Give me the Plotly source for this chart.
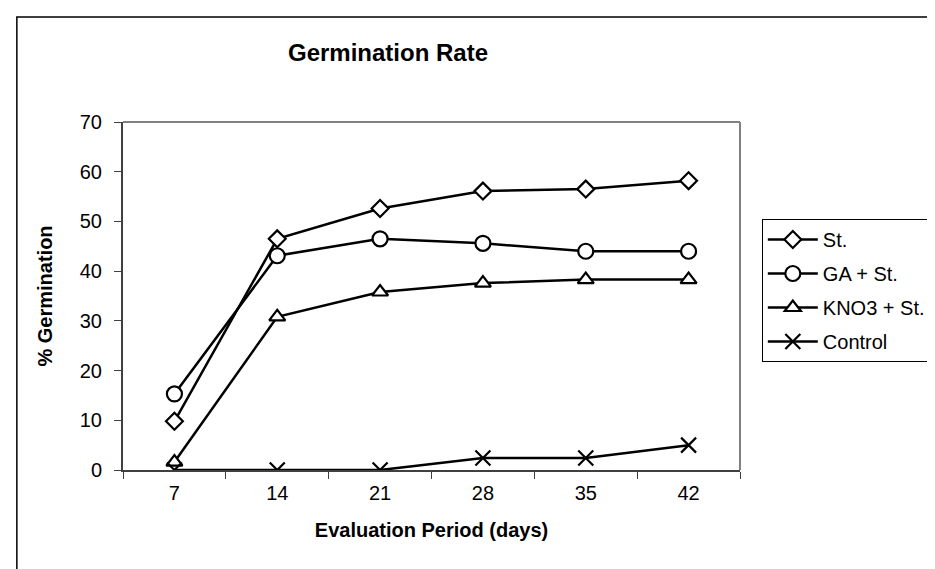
import plotly.graph_objects as go

days = ["7", "14", "21", "28", "35", "42"]
st = [9.8, 46.5, 52.6, 56.1, 56.5, 58.2]
ga_st = [15.3, 43.1, 46.5, 45.6, 44.0, 44.0]
kno3_st = [1.6, 30.8, 35.8, 37.6, 38.3, 38.3]
control = [0, 0, 0, 2.4, 2.4, 5.0]

series = [
    ("St.", st, "diamond", 13),
    ("GA + St.", ga_st, "circle", 15),
    ("KNO3 + St.", kno3_st, "triangle-up", 14),
    ("Control", control, "x-thin", 15),
]

fig = go.Figure()
for name, vals, sym, size in series:
    fig.add_trace(go.Scatter(
        x=days, y=vals, name=name, mode="lines+markers", legendgroup=name,
        line=dict(color="black", width=2.5),
        marker=dict(symbol=sym, size=size, color="white",
                    line=dict(color="black", width=2.2)),
    ))

W, H = 935, 569
L, R, T, B = 115, 198, 114, 107
pw, ph = W - L - R, H - T - B

def px2paper(xp, yp):
    return (xp - L) / pw, (H - B - yp) / ph

x0, y0 = px2paper(8, 9)
x1, y1 = px2paper(1000, 650)

fig.update_layout(
    width=W, height=H,
    margin=dict(l=L, r=R, t=T, b=B),
    paper_bgcolor="white", plot_bgcolor="white",
    font=dict(family="Liberation Sans, Arial, sans-serif", size=20, color="black"),
    title=dict(text="<b>Germination Rate</b>", x=380 / W, xanchor="center",
               y=1 - 45 / H, yanchor="middle", font=dict(size=24)),
    showlegend=True,
    legend=dict(x=px2paper(759, 0)[0], xanchor="left",
                y=px2paper(0, 211)[1], yanchor="top",
                bordercolor="black", borderwidth=1, bgcolor="white",
                font=dict(size=20), itemwidth=50, tracegroupgap=5),
    shapes=[
        dict(type="rect", xref="paper", yref="paper",
             x0=x0, y0=y1, x1=x1, y1=y0,
             line=dict(color="black", width=1.5), layer="below"),
        dict(type="line", xref="paper", yref="paper", x0=0, x1=1, y0=1, y1=1,
             line=dict(color="#808080", width=2)),
        dict(type="line", xref="paper", yref="paper", x0=1, x1=1, y0=0, y1=1,
             line=dict(color="#808080", width=2)),
    ],
)

fig.update_xaxes(
    type="category", range=[-0.5, 5.5],
    showline=True, linecolor="#404040", linewidth=2,
    ticks="outside", tickson="boundaries", ticklen=7, tickcolor="#404040",
    showgrid=False, zeroline=False, ticklabelstandoff=4,
    title=dict(text="<b>Evaluation Period (days)</b>", font=dict(size=20), standoff=20),
)
fig.update_yaxes(
    range=[0, 70], dtick=10, tick0=0,
    showline=True, linecolor="#404040", linewidth=2,
    ticks="outside", ticklen=7, tickcolor="#404040",
    showgrid=False, zeroline=False, ticklabelstandoff=8,
    title=dict(text="<b>% Germination</b>", font=dict(size=20), standoff=22),
)

fig.write_html("out.html")
